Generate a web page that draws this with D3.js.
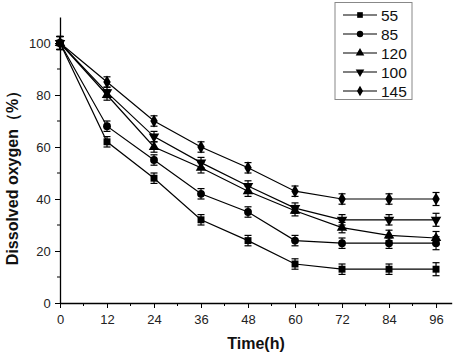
<!DOCTYPE html>
<html><head><meta charset="utf-8">
<script src="https://cdn.jsdelivr.net/npm/d3@7"></script>
<style>body{margin:0;background:#fff}svg{display:block}text{font-family:Arial,"Liberation Sans",sans-serif}</style>
</head><body><svg id="c" width="454" height="355"></svg>
<script>
const times = [0, 12, 24, 36, 48, 60, 72, 84, 96];
const seriesNames = ["55", "85", "120", "100", "145"];
const s55  = [100, 62, 48, 32, 24, 15, 13, 13, 13];
const s85  = [100, 68, 55, 42, 35, 24, 23, 23, 23];
const s120 = [100, 80, 60, 52, 43, 35.5, 29, 26, 25];
const s100 = [100, 81, 64, 54, 45, 36.5, 32, 32, 32];
const s145 = [100, 85, 70, 60, 52, 43, 40, 40, 40];
const errs = [2.5, 2, 2, 2, 2, 2, 2, 2, 2.5];
const xTicks = [0, 12, 24, 36, 48, 60, 72, 84, 96];
const yTicks = [0, 20, 40, 60, 80, 100];
const symbols = [d3.symbolSquare, d3.symbolCircle, d3.symbolTriangle, "down", d3.symbolDiamond];
const allSeries = [s55, s85, s120, s100, s145];

const svg = d3.select("#c");
const x = d3.scaleLinear().domain([0, 100]).range([60, 451.7]);
const y = d3.scaleLinear().domain([0, 110]).range([303, 17]);

function sym(g, k, size) {
  const s = symbols[k];
  if (s === "down") {
    return g.append("path").attr("d", d3.symbol(d3.symbolTriangle, size)()).attr("transform", "rotate(180)");
  }
  return g.append("path").attr("d", d3.symbol(s, size)());
}

// axes
const xAxis = d3.axisBottom(x).tickValues(xTicks).tickSize(5).tickSizeOuter(0);
const gx = svg.append("g").attr("transform", "translate(0,303)").call(xAxis);
gx.selectAll("text").attr("font-size", 13).attr("fill", "#222").attr("dy", "1em");
gx.append("g").selectAll("line").data(d3.range(6, 100, 12)).join("line")
  .attr("x1", d => x(d)).attr("x2", d => x(d)).attr("y1", 0).attr("y2", 3).attr("stroke", "#000");
const yAxis = d3.axisLeft(y).tickValues(yTicks).tickSize(5).tickSizeOuter(0);
const gy = svg.append("g").attr("transform", "translate(60,0)").call(yAxis);
gy.selectAll("text").attr("font-size", 13).attr("fill", "#222").attr("dx", "-0.1em");
gy.append("g").selectAll("line").data(d3.range(10, 110, 20)).join("line")
  .attr("y1", d => y(d)).attr("y2", d => y(d)).attr("x1", 0).attr("x2", -3).attr("stroke", "#000");
svg.selectAll(".domain").attr("stroke", "#000").attr("stroke-width", 1.3);

// series
allSeries.forEach((vals, k) => {
  const pts = times.map((t, i) => ({t, v: vals[i], e: errs[i]}));
  svg.append("path").datum(pts)
    .attr("d", d3.line().x(d => x(d.t)).y(d => y(d.v)))
    .attr("fill", "none").attr("stroke", "#000").attr("stroke-width", 1.2);
  const g = svg.append("g");
  pts.forEach(d => {
    const cx = x(d.t), y1 = y(d.v + d.e), y2 = y(d.v - d.e);
    g.append("line").attr("x1", cx).attr("x2", cx).attr("y1", y1).attr("y2", y2).attr("stroke", "#000").attr("stroke-width", 1.2);
    g.append("line").attr("x1", cx - 3.5).attr("x2", cx + 3.5).attr("y1", y1).attr("y2", y1).attr("stroke", "#000").attr("stroke-width", 1.2);
    g.append("line").attr("x1", cx - 3.5).attr("x2", cx + 3.5).attr("y1", y2).attr("y2", y2).attr("stroke", "#000").attr("stroke-width", 1.2);
    const m = svg.append("g").attr("transform", `translate(${cx},${y(d.v)})`);
    sym(m, k, 48).attr("fill", "#000");
  });
});

// legend
const lg = svg.append("g");
lg.append("rect").attr("x", 335).attr("y", 2.5).attr("width", 77).attr("height", 97)
  .attr("fill", "#fff").attr("stroke", "#888").attr("stroke-width", 1);
seriesNames.forEach((n, k) => {
  const yy = 15 + k * 19;
  lg.append("line").attr("x1", 343).attr("x2", 377).attr("y1", yy).attr("y2", yy).attr("stroke", "#000").attr("stroke-width", 1.2);
  const m = lg.append("g").attr("transform", `translate(360,${yy})`);
  sym(m, k, 32).attr("fill", "#000");
  lg.append("text").attr("x", 381).attr("y", yy).attr("dy", "0.36em").attr("font-size", 15.5).attr("fill", "#111").text(n);
});

// axis titles
svg.append("text").attr("transform", "translate(18,174) rotate(-90)").attr("text-anchor", "middle")
  .attr("font-size", 16).attr("font-weight", "bold").attr("fill", "#111").text("Dissolved oxygen（%）");
svg.append("text").attr("x", 256).attr("y", 349).attr("text-anchor", "middle")
  .attr("font-size", 16).attr("font-weight", "bold").attr("fill", "#111").text("Time(h)");
</script></body></html>
